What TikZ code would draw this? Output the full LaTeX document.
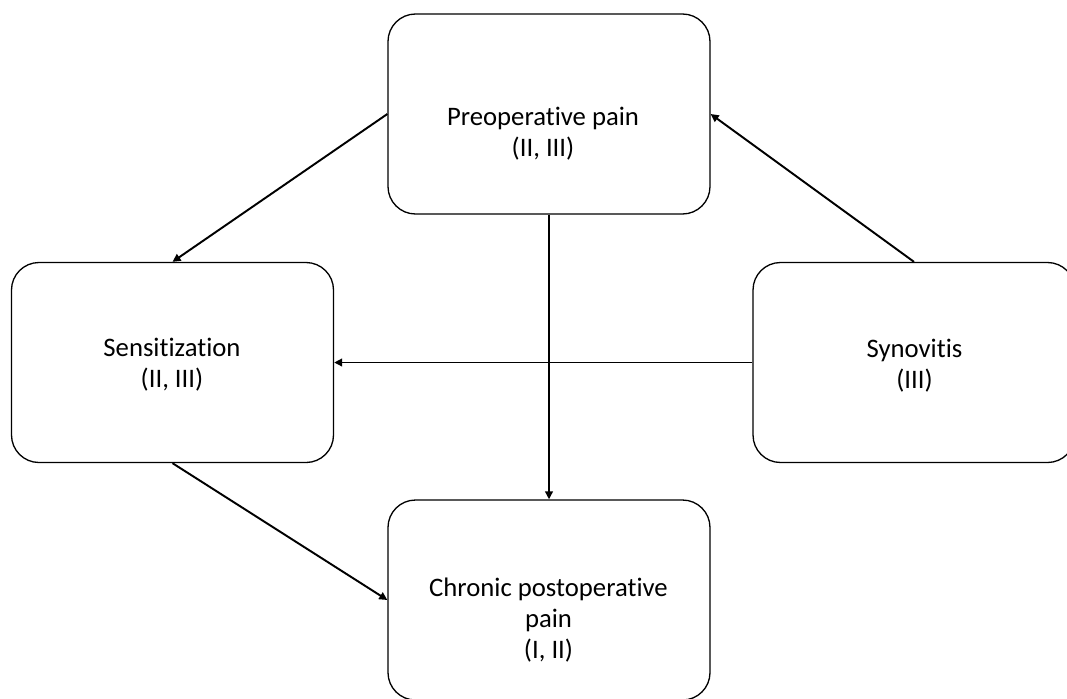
\documentclass[tikz,border=0pt]{standalone}
\usepackage{fontspec}
\setmainfont{Carlito}[Ligatures=NoCommon]
\usepackage{tikz}
\usetikzlibrary{arrows.meta, positioning}

\begin{document}
\begin{tikzpicture}[
    stagebox/.style={draw=black, line width=0.75pt, rounded corners=0.55cm, minimum width=6.44cm, minimum height=4cm},
    stagetext/.style={font=\fontsize{15.2}{17.6}\selectfont, align=center},
    link/.style={-{Triangle[length=4.6pt, width=4.4pt]}, line width=1.1pt, black}
  ]
  \useasboundingbox (0, 0) rectangle (21.34, -13.96);

  % Boxes
  \node[stagebox] (pre) at (10.98, -2.28) {};
  \node[stagebox] (sens) at (3.45, -7.25) {};
  \node[stagebox] (syn) at (18.28, -7.25) {};
  \node[stagebox] (chron) at (10.98, -12.0) {};

  % Labels
  \node[stagetext] (pretext) at (10.86, -2.68) {Preoperative pain\\(II, III)};
  \node[stagetext] (senstext) at (3.44, -7.30) {Sensitization\\(II, III)};
  \node[stagetext] (syntext) at (18.29, -7.31) {Synovitis\\(III)};
  \node[stagetext] (chrontext) at (10.97, -12.40) {Chronic postoperative\\pain\\(I, II)};

  % Arrows
  \draw[link] (pre.west) -- (sens.north);
  \draw[link] (pre.south) -- (chron.north);
  \draw[link] (syn.west) -- (sens.east);
  \draw[link] (syn.north) -- (pre.east);
  \draw[link] (sens.south) -- (chron.west);
\end{tikzpicture}
\end{document}
